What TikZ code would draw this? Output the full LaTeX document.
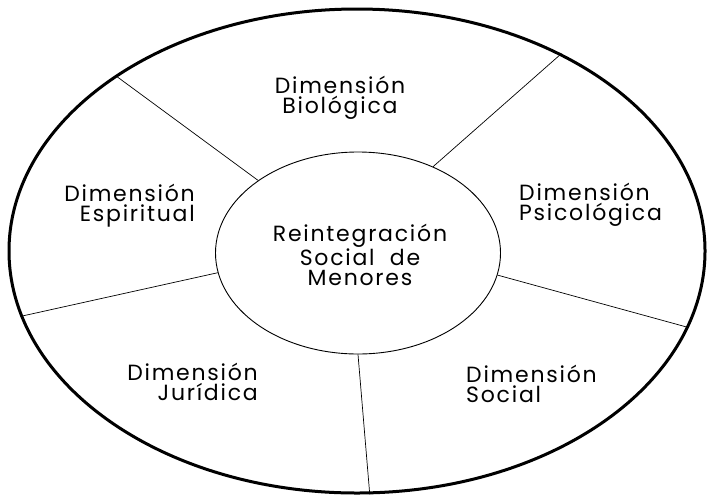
\documentclass[tikz,border=0pt]{standalone}
\usepackage{fontspec}
\setmainfont[LetterSpace=8]{Poppins}
\usetikzlibrary{shapes.geometric}
\begin{document}
\begin{tikzpicture}[x=1pt,y=-1pt,
  lab/.style={font=\fontsize{22}{20}\selectfont, inner sep=0pt},
  sep/.style={line width=0.7pt}]
\useasboundingbox (0,0) rectangle (708,496);
\node[ellipse, draw, line width=3pt, minimum width=696pt, minimum height=484pt, inner sep=0pt] (outer) at (357,251) {};
\node[ellipse, draw, line width=0.9pt, minimum width=285pt, minimum height=202pt, inner sep=0pt] (inner) at (358,253) {};
\node[lab, align=center] (ctr) at (360,255) {Reintegración\\Social\ \ de\\Menores};
\draw[sep] (inner.144) -- (outer.144.4);
\draw[sep] (inner.49) -- (outer.44);
\draw[sep] (inner.-9.3) -- (outer.-13.6);
\draw[sep] (inner.-90) -- (outer.-87.9);
\draw[sep] (inner.188.8) -- (outer.191.3);
\node[lab, align=center] (bio) at (340,98) {Dimensión\\Biológica};
\node[lab, align=right, anchor=east] (esp) at (195,206) {Dimensión\\Espiritual};
\node[lab, align=left, anchor=west] (psi) at (519,205) {Dimensión\\Psicológica};
\node[lab, align=right, anchor=east] (jur) at (258,382) {Dimensión\\Jurídica};
\node[lab, align=left, anchor=west] (soc) at (466,384) {Dimensión\\Social};
\end{tikzpicture}
\end{document}
